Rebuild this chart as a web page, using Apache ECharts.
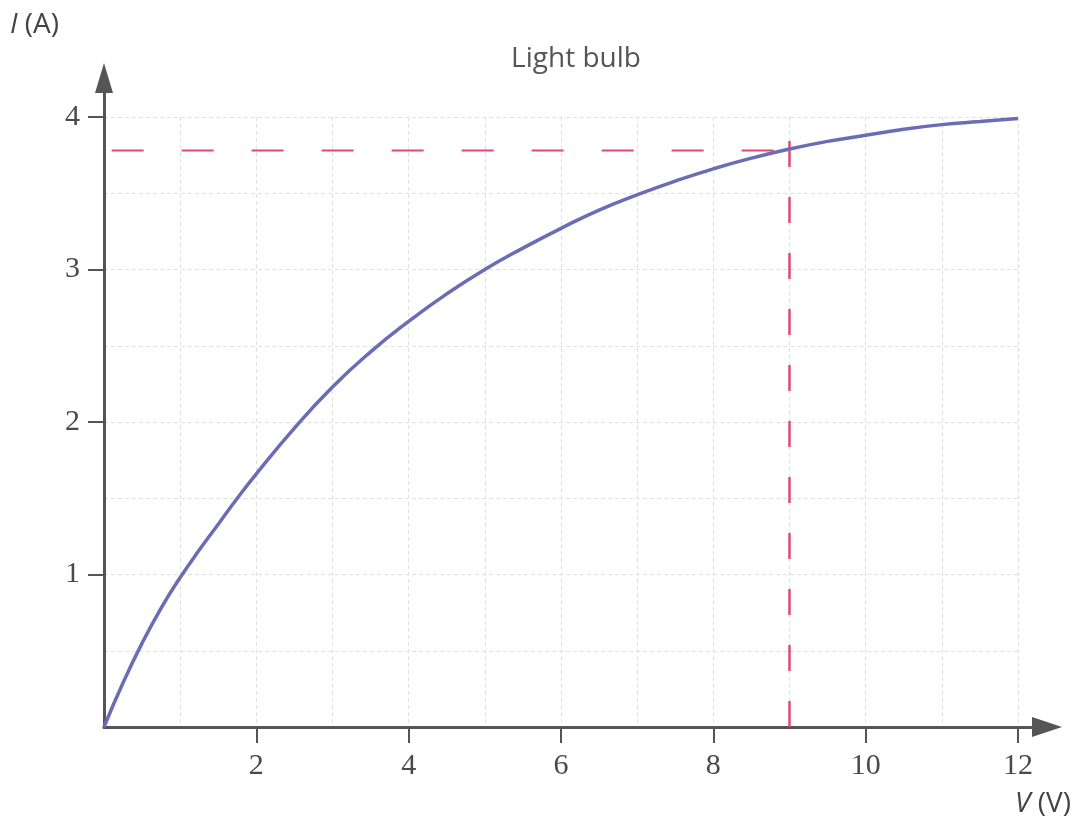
<!DOCTYPE html>
<html>
<head>
<meta charset="utf-8">
<script src="https://cdn.jsdelivr.net/npm/echarts@6/dist/echarts.min.js"></script>
<style>html,body{margin:0;padding:0;background:#fff;}#c{width:1077px;height:824px;}</style>
</head>
<body>
<div id="c"></div>
<script>
const voltage = [0, 0.25, 0.5, 0.75, 1, 1.25, 1.5, 1.75, 2, 2.5, 3, 3.5, 4, 4.5, 5, 5.5, 6, 6.5, 7, 7.5, 8, 8.5, 9, 9.5, 10, 10.5, 11, 11.5, 12];
const current = [0, 0.29, 0.55, 0.78, 0.98, 1.16, 1.33, 1.50, 1.66, 1.96, 2.23, 2.46, 2.66, 2.84, 3.00, 3.14, 3.27, 3.39, 3.49, 3.58, 3.66, 3.73, 3.79, 3.84, 3.88, 3.92, 3.95, 3.97, 3.99];
const readVoltage = 9;
const readCurrent = 3.78;
const readLineTop = 3.85;
const readLineStart = 0.1;
const xTickLabels = [2, 4, 6, 8, 10, 12];
const yTickLabels = [1, 2, 3, 4];

const chart = echarts.init(document.getElementById('c'));
const axisColor = '#555';
const gridStyle = { color: '#e0e0e0', width: 1, type: [4, 3] };
const labelFont = { fontFamily: 'Liberation Serif', fontSize: 30, color: '#4a4a4a' };
const unitRich = { i: { fontStyle: 'italic', fontFamily: 'Open Sans', fontSize: 28, fill: '#444' } };

chart.setOption({
  animation: false,
  backgroundColor: '#fff',
  title: {
    text: 'Light bulb',
    left: 571, top: 40, textAlign: 'center',
    textStyle: { fontFamily: 'Open Sans', fontWeight: 'normal', fontSize: 28, color: '#555' }
  },
  graphic: [
    { type: 'text', left: 10, top: 11, style: { text: '{i|I} (A)', rich: unitRich, fontFamily: 'Open Sans', fontSize: 28, fill: '#444' } },
    { type: 'text', right: 6, top: 790, style: { text: '{i|V} (V)', rich: unitRich, fontFamily: 'Open Sans', fontSize: 28, fill: '#444' } }
  ],
  grid: [
    { left: 104, right: 59, top: 117, bottom: 97 },
    { left: 104, right: 30, top: 78, bottom: 97 }
  ],
  xAxis: [
    {
      type: 'value', gridIndex: 0, min: 0, max: 12, interval: 2,
      axisLine: { show: false },
      axisTick: { show: true, length: 16, customValues: xTickLabels, lineStyle: { color: axisColor, width: 2 } },
      axisLabel: { ...labelFont, margin: 24, customValues: xTickLabels },
      splitLine: { show: true, lineStyle: gridStyle },
      minorTick: { show: false, splitNumber: 2 },
      minorSplitLine: { show: true, lineStyle: gridStyle }
    },
    {
      type: 'value', gridIndex: 1, min: 0, max: 1,
      axisLine: { show: true, symbol: ['none', 'triangle'], symbolSize: [20, 30], lineStyle: { color: axisColor, width: 3 } },
      axisTick: { show: false }, axisLabel: { show: false }, splitLine: { show: false }
    }
  ],
  yAxis: [
    {
      type: 'value', gridIndex: 0, min: 0, max: 4, interval: 1,
      axisLine: { show: false },
      axisTick: { show: true, length: 16, customValues: yTickLabels, lineStyle: { color: axisColor, width: 2 } },
      axisLabel: { ...labelFont, margin: 24, customValues: yTickLabels },
      splitLine: { show: true, lineStyle: gridStyle },
      minorTick: { show: false, splitNumber: 2 },
      minorSplitLine: { show: true, lineStyle: gridStyle }
    },
    {
      type: 'value', gridIndex: 1, min: 0, max: 1,
      axisLine: { show: true, symbol: ['none', 'triangle'], symbolSize: [18, 30], lineStyle: { color: axisColor, width: 3 } },
      axisTick: { show: false }, axisLabel: { show: false }, splitLine: { show: false }
    }
  ],
  series: [
    {
      name: 'reading V', type: 'line', xAxisIndex: 0, yAxisIndex: 0, showSymbol: false, symbol: 'none',
      data: [[readVoltage, 0], [readVoltage, readLineTop]],
      lineStyle: { color: '#e2477a', width: 2.5, type: [26, 30] }, z: 3
    },
    {
      name: 'reading I', type: 'line', xAxisIndex: 0, yAxisIndex: 0, showSymbol: false, symbol: 'none',
      data: [[readLineStart, readCurrent], [readVoltage, readCurrent]],
      lineStyle: { color: '#e2477a', width: 2, type: [32, 38] }, z: 3
    },
    {
      name: 'Light bulb', type: 'line', xAxisIndex: 0, yAxisIndex: 0, showSymbol: false, symbol: 'none',
      smooth: 0.5,
      data: voltage.map((v, i) => [v, current[i]]),
      lineStyle: { color: '#6a6db3', width: 3.5 }, z: 4
    }
  ]
});
</script>
</body>
</html>
